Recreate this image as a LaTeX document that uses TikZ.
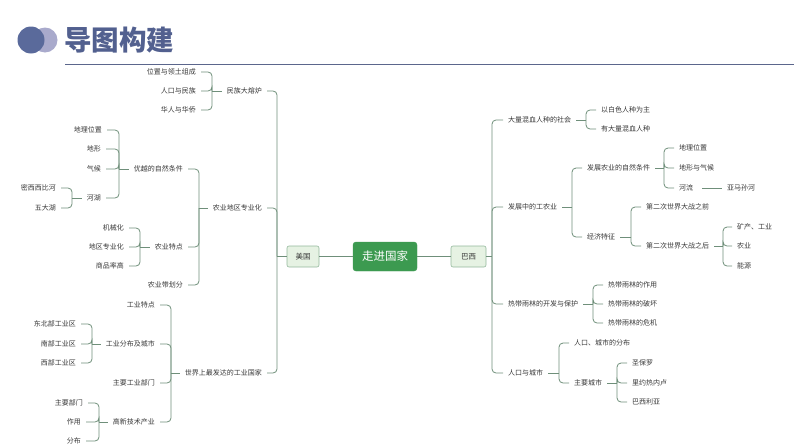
\documentclass[tikz,border=0pt]{standalone}
\usepackage{fontspec}
\setmainfont{Noto Sans CJK SC}
\begin{document}
\begin{tikzpicture}[x=1pt,y=-1pt,
  leaf/.style={font=\fontsize{7}{8}\selectfont, text=txtc, inner xsep=5pt, inner ysep=1pt},
  lft/.style={leaf, anchor=east},
  rgt/.style={leaf, anchor=west},
  conn/.style={draw=linec, line width=0.8pt},
  br/.style={conn, rounded corners=4pt},
  subbox/.style={draw=boxline, fill=boxfill, rounded corners=2pt, line width=0.6pt,
    minimum height=21pt, text=txtc, font=\fontsize{7.5}{9}\selectfont, inner xsep=2pt},
  mainbox/.style={fill=maingreen, draw=maingreen, rounded corners=3pt, text=white,
    minimum width=64pt, minimum height=29pt, font=\fontsize{11.5}{13}\selectfont}
]
\definecolor{txtc}{HTML}{383838}
\definecolor{linec}{HTML}{6F8F7A}
\definecolor{boxline}{HTML}{93B79C}
\definecolor{boxfill}{HTML}{E6F2E3}
\definecolor{maingreen}{HTML}{3C9A50}
\definecolor{titlec}{HTML}{52608F}
\definecolor{circA}{HTML}{5A6A9B}
\definecolor{circB}{HTML}{A9AACC}
\path[use as bounding box] (0,0) rectangle (794,447);

% header
\fill[circB] (45,40) circle (12.5);
\fill[circA] (31,40) circle (13.5);
\node[anchor=west, inner sep=0pt, text=titlec, font=\fontsize{27.5}{30}\selectfont\bfseries] (title) at (64,40) {导图构建};
\coordinate (hl1) at (65,64);
\coordinate (hl2) at (794,64);
\draw[draw=titlec!80!gray, line width=0.9pt] (hl1) -- (hl2);

% center
\node[mainbox] (root) at (385,256.5) {走进国家};
\node[subbox, minimum width=32pt] (usa) at (303,256.5) {美国};
\node[subbox, minimum width=35pt] (bra) at (468.5,256.5) {巴西};
\draw[conn] (usa.east) -- (root.west);
\draw[conn] (root.east) -- (bra.west);

% ===== left tree =====
\coordinate (jL) at (277,256.5);
\node[lft] (minzu) at (267,91) {民族大熔炉};
\node[lft] (nongye) at (267,208) {农业地区专业化};
\node[lft] (gongye) at (267,373) {世界上最发达的工业国家};
\draw[conn] (usa.west) -- (jL);
\foreach \c in {minzu,nongye,gongye} \draw[br] (jL) |- (\c.east);

\coordinate (jA) at (212,91);
\node[lft] (weizhi) at (201,72) {位置与领土组成};
\node[lft] (renkou) at (201,91) {人口与民族};
\node[lft] (huaren) at (201,110) {华人与华侨};
\draw[conn] (minzu.west) -- (jA);
\foreach \c in {weizhi,renkou,huaren} \draw[br] (jA) |- (\c.east);

\coordinate (jB) at (199,208);
\node[lft] (ziran) at (188,169) {优越的自然条件};
\node[lft] (tedian) at (188,247) {农业特点};
\node[lft] (daihua) at (188,285) {农业带划分};
\draw[conn] (nongye.west) -- (jB);
\foreach \c in {ziran,tedian,daihua} \draw[br] (jB) |- (\c.east);

\coordinate (jC) at (119,169);
\node[lft] (dili) at (107,130) {地理位置};
\node[lft] (dixing) at (106,149) {地形};
\node[lft] (qihou) at (106,169) {气候};
\node[lft] (hehu) at (106,198) {河湖};
\draw[conn] (ziran.west) -- (jC);
\foreach \c in {dili,dixing,qihou,hehu} \draw[br] (jC) |- (\c.east);

\coordinate (jD) at (72,198);
\node[lft] (mxxb) at (61,188) {密西西比河};
\node[lft] (wdh) at (61,208) {五大湖};
\draw[conn] (hehu.west) -- (jD);
\foreach \c in {mxxb,wdh} \draw[br] (jD) |- (\c.east);

\coordinate (jE) at (140,247);
\node[lft] (jxh) at (129,228) {机械化};
\node[lft] (dqzyh) at (129,247) {地区专业化};
\node[lft] (spl) at (129,266) {商品率高};
\draw[conn] (tedian.west) -- (jE);
\foreach \c in {jxh,dqzyh,spl} \draw[br] (jE) |- (\c.east);

\coordinate (jF) at (171,373);
\node[lft] (gytd) at (160,305) {工业特点};
\node[lft] (gyfb) at (160,344) {工业分布及城市};
\node[lft] (zygy) at (160,383) {主要工业部门};
\node[lft] (gxjs) at (160,422) {高新技术产业};
\draw[conn] (gongye.west) -- (jF);
\foreach \c in {gytd,gyfb,zygy,gxjs} \draw[br] (jF) |- (\c.east);

\coordinate (jG) at (92,344);
\node[lft] (dbb) at (81,324) {东北部工业区};
\node[lft] (nb) at (81,344) {南部工业区};
\node[lft] (xb) at (81,363) {西部工业区};
\draw[conn] (gyfb.west) -- (jG);
\foreach \c in {dbb,nb,xb} \draw[br] (jG) |- (\c.east);

\coordinate (jH) at (99,422);
\node[lft] (zybm) at (88,403) {主要部门};
\node[lft] (zuoyong) at (86,422) {作用};
\node[lft] (fenbu) at (86,441) {分布};
\draw[conn] (gxjs.west) -- (jH);
\foreach \c in {zybm,zuoyong,fenbu} \draw[br] (jH) |- (\c.east);

% ===== right tree =====
\coordinate (jR) at (492,256.5);
\node[rgt] (hx) at (503,120) {大量混血人种的社会};
\node[rgt] (gny) at (503,207) {发展中的工农业};
\node[rgt] (rd) at (503,304) {热带雨林的开发与保护};
\node[rgt] (rk) at (503,373) {人口与城市};
\draw[conn] (bra.east) -- (jR);
\foreach \c in {hx,gny,rd,rk} \draw[br] (jR) |- (\c.west);

\coordinate (jI) at (586,120);
\node[rgt] (bs) at (596,110) {以白色人种为主};
\node[rgt] (dlhx) at (596,129) {有大量混血人种};
\draw[conn] (hx.east) -- (jI);
\foreach \c in {bs,dlhx} \draw[br] (jI) |- (\c.west);

\coordinate (jJ) at (572,207);
\node[rgt] (fzny) at (582,168) {发展农业的自然条件};
\node[rgt] (jjtz) at (582,237) {经济特征};
\draw[conn] (gny.east) -- (jJ);
\foreach \c in {fzny,jjtz} \draw[br] (jJ) |- (\c.west);

\coordinate (jK) at (664,168);
\node[rgt] (dlwz) at (674,148) {地理位置};
\node[rgt] (dxqh) at (674,168) {地形与气候};
\node[rgt] (heliu) at (674,188) {河流};
\draw[conn] (fzny.east) -- (jK);
\foreach \c in {dlwz,dxqh,heliu} \draw[br] (jK) |- (\c.west);

\node[rgt] (ymsh) at (722,188) {亚马孙河};
\draw[conn] ([xshift=4pt]heliu.east) -- (ymsh.west);

\coordinate (jM) at (631,237);
\node[rgt] (zq) at (641,207) {第二次世界大战之前};
\node[rgt] (zh) at (641,246) {第二次世界大战之后};
\draw[conn] (jjtz.east) -- (jM);
\foreach \c in {zq,zh} \draw[br] (jM) |- (\c.west);

\coordinate (jN) at (723,246);
\node[rgt] (kc) at (732,227) {矿产、工业};
\node[rgt] (nyy) at (732,246) {农业};
\node[rgt] (nengy) at (732,266) {能源};
\draw[conn] (zh.east) -- (jN);
\foreach \c in {kc,nyy,nengy} \draw[br] (jN) |- (\c.west);

\coordinate (jO) at (593,304);
\node[rgt] (zyy) at (603,285) {热带雨林的作用};
\node[rgt] (ph) at (603,304) {热带雨林的破坏};
\node[rgt] (wj) at (603,323) {热带雨林的危机};
\draw[conn] (rd.east) -- (jO);
\foreach \c in {zyy,ph,wj} \draw[br] (jO) |- (\c.west);

\coordinate (jP) at (559,373);
\node[rgt] (rkfb) at (569,343) {人口、城市的分布};
\node[rgt] (zycs) at (569,383) {主要城市};
\draw[conn] (rk.east) -- (jP);
\foreach \c in {rkfb,zycs} \draw[br] (jP) |- (\c.west);

\coordinate (jQ) at (617,383);
\node[rgt] (sbl) at (627,363) {圣保罗};
\node[rgt] (lyrn) at (627,383) {里约热内卢};
\node[rgt] (bxly) at (627,402) {巴西利亚};
\draw[conn] (zycs.east) -- (jQ);
\foreach \c in {sbl,lyrn,bxly} \draw[br] (jQ) |- (\c.west);
\end{tikzpicture}
\end{document}
